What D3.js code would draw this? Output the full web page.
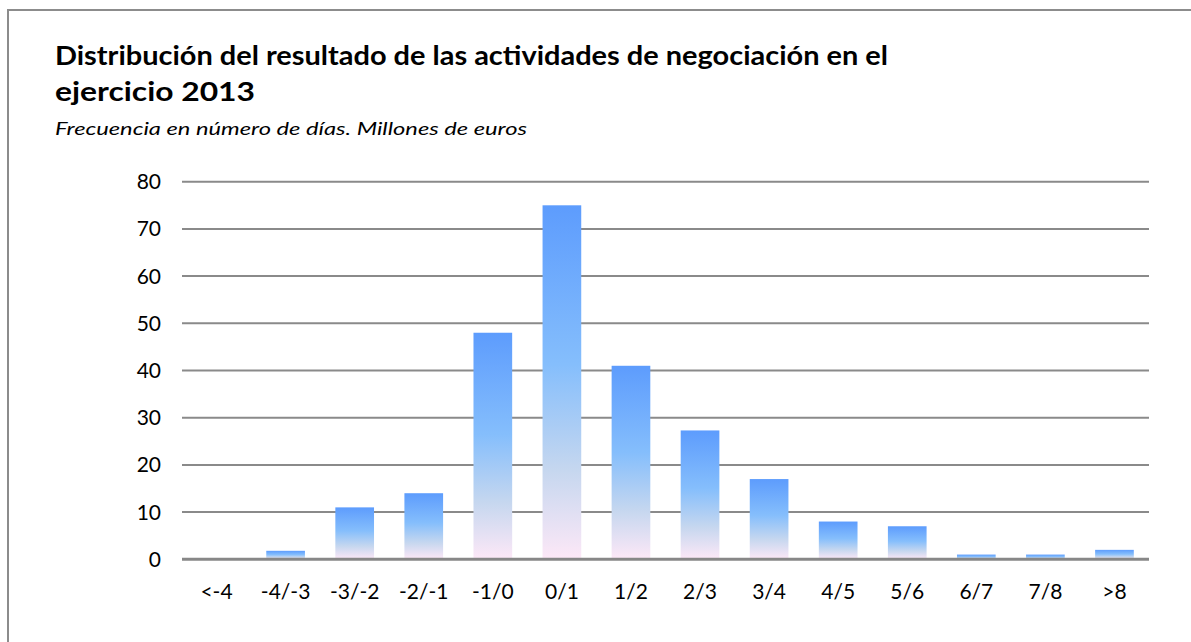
<!DOCTYPE html>
<html>
<head>
<meta charset="utf-8">
<script src="https://cdn.jsdelivr.net/npm/d3@7"></script>
<style>
  html, body { margin: 0; padding: 0; background: #fff; }
  svg { display: block; }
  text { font-family: Lato, "Open Sans", sans-serif; fill: #000; }
</style>
</head>
<body>
<svg id="chart" width="1191" height="642"></svg>
<script>
const categories = ["<-4", "-4/-3", "-3/-2", "-2/-1", "-1/0", "0/1", "1/2", "2/3", "3/4", "4/5", "5/6", "6/7", "7/8", ">8"];
const values = [0, 1.8, 11, 14, 48, 75, 41, 27.3, 17, 8, 7, 1, 1, 2];
const yTicks = [0, 10, 20, 30, 40, 50, 60, 70, 80];
const titleLines = ["Distribución del resultado de las actividades de negociación en el", "ejercicio 2013"];
const subtitle = "Frecuencia en número de días. Millones de euros";

const svg = d3.select("#chart");

// outer frame
svg.append("rect")
  .attr("x", 8).attr("y", 10)
  .attr("width", 1200).attr("height", 700)
  .attr("fill", "none").attr("stroke", "#8c8c8c").attr("stroke-width", 2);

// gradient
const defs = svg.append("defs");
const grad = defs.append("linearGradient")
  .attr("id", "barGrad").attr("x1", 0).attr("y1", 0).attr("x2", 0).attr("y2", 1);
[[0, "#5d9cfd"], [0.45, "#85befc"], [0.75, "#c6d7ef"], [1, "#fde8f7"]].forEach(([o, c]) =>
  grad.append("stop").attr("offset", o).attr("stop-color", c));

// titles
svg.append("text").attr("x", 55).attr("y", 65)
  .attr("font-size", 26).attr("font-weight", 700)
  .attr("textLength", 833).attr("lengthAdjust", "spacingAndGlyphs")
  .text(titleLines[0]);
svg.append("text").attr("x", 55).attr("y", 101)
  .attr("font-size", 26).attr("font-weight", 700)
  .attr("textLength", 200).attr("lengthAdjust", "spacingAndGlyphs")
  .text(titleLines[1]);
svg.append("text").attr("x", 55).attr("y", 135)
  .attr("font-size", 18).attr("font-style", "italic")
  .attr("textLength", 472).attr("lengthAdjust", "spacingAndGlyphs")
  .text(subtitle);

const x = d3.scaleBand().domain(categories).range([182, 1149])
  .paddingInner(0.44).paddingOuter(0.22);
const y = d3.scaleLinear().domain([0, 80]).range([559.3, 181.7]);

// gridlines
svg.append("g").selectAll("line").data(yTicks.filter(t => t > 0)).join("line")
  .attr("x1", 182).attr("x2", 1149)
  .attr("y1", d => y(d)).attr("y2", d => y(d))
  .attr("stroke", "#8a8a8a").attr("stroke-width", 2);

// bars
svg.append("g").selectAll("rect").data(values).join("rect")
  .attr("x", (d, i) => x(categories[i]))
  .attr("width", x.bandwidth())
  .attr("y", d => y(d))
  .attr("height", d => Math.max(0, y(0) - y(d)))
  .attr("fill", "url(#barGrad)");

// x axis line
svg.append("line").attr("x1", 182).attr("x2", 1149)
  .attr("y1", y(0)).attr("y2", y(0))
  .attr("stroke", "#878787").attr("stroke-width", 3);

// y labels
svg.append("g").selectAll("text").data(yTicks).join("text")
  .attr("x", 161).attr("y", d => y(d) + 7.5)
  .attr("text-anchor", "end").attr("font-size", 21)
  .text(d => d);

// x labels
svg.append("g").selectAll("text").data(categories).join("text")
  .attr("x", d => x(d) + x.bandwidth() / 2).attr("y", 599)
  .attr("text-anchor", "middle").attr("font-size", 21)
  .text(d => d);
</script>
</body>
</html>
